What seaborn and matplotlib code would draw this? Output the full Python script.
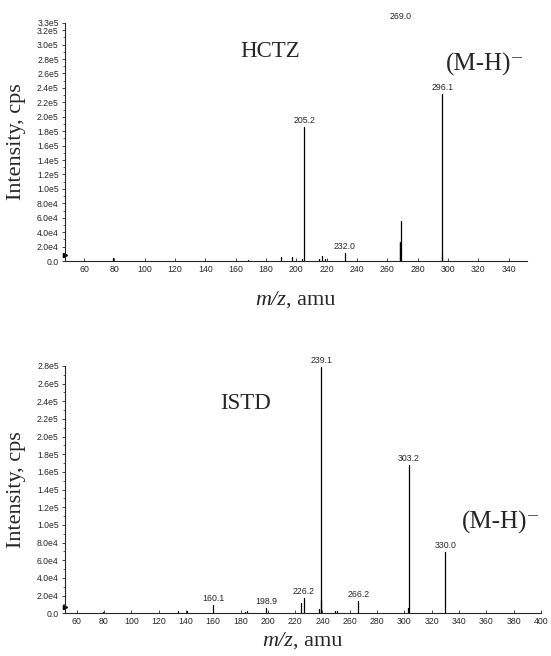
import numpy as np
import pandas as pd
import matplotlib
matplotlib.use("Agg")
import matplotlib.pyplot as plt
import seaborn as sns

# HCTZ spectrum (m/z, intensity in cps)
hctz_mz = [79, 168, 190, 197, 204, 205.2, 215, 217, 219, 232.0, 268.2, 268.6, 269.0, 295.8, 296.1]
hctz_int = [4000, 2000, 5000, 5500, 3000, 186000, 3000, 7000, 2500, 11000, 26000, 26000, 56000, 9000, 231000]
hctz_labels = {205.2: "205.2", 232.0: "232.0", 296.1: "296.1"}

# ISTD spectrum
istd_mz = [79, 134, 141, 160.1, 183, 185, 198.9, 224.5, 226.2, 237.5, 238.6, 239.1, 249, 250.5,
           266.2, 302.8, 303.2, 330.0]
istd_int = [1000, 2500, 2500, 9400, 2000, 2500, 5600, 12000, 17000, 5000, 15000, 279000, 2500, 2500,
            14000, 6000, 167600, 69000]
istd_labels = {160.1: "160.1", 198.9: "198.9", 226.2: "226.2", 239.1: "239.1",
               266.2: "266.2", 303.2: "303.2", 330.0: "330.0"}

hctz_yticks = [0, 2e4, 4e4, 6e4, 8e4, 1e5, 1.2e5, 1.4e5, 1.6e5, 1.8e5, 2.0e5, 2.2e5, 2.4e5,
               2.6e5, 2.8e5, 3.0e5, 3.2e5, 3.3e5]
hctz_ytlabels = ["0.0", "2.0e4", "4.0e4", "6.0e4", "8.0e4", "1.0e5", "1.2e5", "1.4e5", "1.6e5",
                 "1.8e5", "2.0e5", "2.2e5", "2.4e5", "2.6e5", "2.8e5", "3.0e5", "3.2e5", "3.3e5"]
istd_yticks = hctz_yticks[:15]
istd_ytlabels = hctz_ytlabels[:15]
hctz_xticks = list(range(60, 341, 20))
istd_xticks = list(range(60, 401, 20))


def stems(mz, inten):
    rows = []
    for i, (m, h) in enumerate(zip(mz, inten)):
        rows.append({"peak": i, "mz": m, "I": 0})
        rows.append({"peak": i, "mz": m, "I": h})
    return pd.DataFrame(rows)


sns.set_style("ticks")
plt.rcParams["font.family"] = ["Liberation Sans", "DejaVu Sans"]

fig = plt.figure(figsize=(5.51, 6.56), dpi=100)
ax1 = fig.add_axes([65 / 551, 1 - 261 / 656, 462 / 551, 238 / 656])
ax2 = fig.add_axes([65 / 551, 1 - 613.3 / 656, 476 / 551, 247.3 / 656])

serif = ["Liberation Serif", "DejaVu Serif"]

for ax, mz, inten, labels, xlim, ylim, yt, ytl, xt in [
    (ax1, hctz_mz, hctz_int, hctz_labels, (47.5, 352), (0, 3.30e5), hctz_yticks, hctz_ytlabels, hctz_xticks),
    (ax2, istd_mz, istd_int, istd_labels, (51.5, 400), (0, 2.795e5), istd_yticks, istd_ytlabels, istd_xticks),
]:
    sns.lineplot(data=stems(mz, inten), x="mz", y="I", units="peak", estimator=None,
                 sort=False, color="black", lw=0.9, ax=ax, legend=False)
    ax.set_xlim(*xlim)
    ax.set_ylim(*ylim)
    ax.set_yticks(yt)
    ax.set_yticklabels(ytl)
    ax.set_xticks(xt)
    ax.set_xticklabels([str(t) for t in xt])
    ax.set_yticks(np.arange(1e4, ylim[1], 2e4), minor=True)
    ax.tick_params(axis="y", labelsize=6.2, length=2.5, width=0.6, pad=2, direction="out")
    ax.tick_params(axis="y", which="minor", length=1.5, width=0.5)
    ax.tick_params(axis="x", labelsize=6.3, length=2, width=0.6, pad=3, direction="in")
    for s in ["top", "right"]:
        ax.spines[s].set_visible(False)
    for s in ["left", "bottom"]:
        ax.spines[s].set_linewidth(0.8)
    for m, h in zip(mz, inten):
        if m in labels:
            ax.annotate(labels[m], xy=(m, h), xytext=(0, 1.5), textcoords="offset points",
                        ha="center", va="bottom", fontsize=6.3)
    ax.set_xlabel("")
    ax.set_ylabel("Intensity, cps", fontsize=16, family=serif)
    ax.plot([0], [0.025], marker=">", color="black", ms=3, transform=ax.transAxes, clip_on=False)

# x labels: italic m/z followed by upright ", amu"
for ax, xpos, ypos in [(ax1, 0.478, -0.125), (ax2, 0.479, -0.075)]:
    ax.text(xpos, ypos, "m/z", transform=ax.transAxes, fontsize=16, family=serif,
            style="italic", ha="right", va="top")
    ax.text(xpos, ypos, ", amu", transform=ax.transAxes, fontsize=16, family=serif,
            ha="left", va="top")

# off-scale label for 269.0
ax1.annotate("269.0", xy=(269.0, 3.30e5), xytext=(0, 1.5), textcoords="offset points",
             ha="center", va="bottom", fontsize=6.3, annotation_clip=False)

ax1.text(183, 2.91e5, "HCTZ", fontsize=16.5, family=serif, ha="center", va="center")
ax1.text(298.5, 2.73e5, "(M-H)⁻", fontsize=18, family=serif, ha="left", va="center")
ax2.text(184, 2.376e5, "ISTD", fontsize=16.5, family=serif, ha="center", va="center")
ax2.text(342, 1.03e5, "(M-H)⁻", fontsize=18, family=serif, ha="left", va="center")

ax1.yaxis.set_label_coords(-0.085, 0.5)
ax2.yaxis.set_label_coords(-0.082, 0.5)

fig.savefig("out.png", dpi=100)
